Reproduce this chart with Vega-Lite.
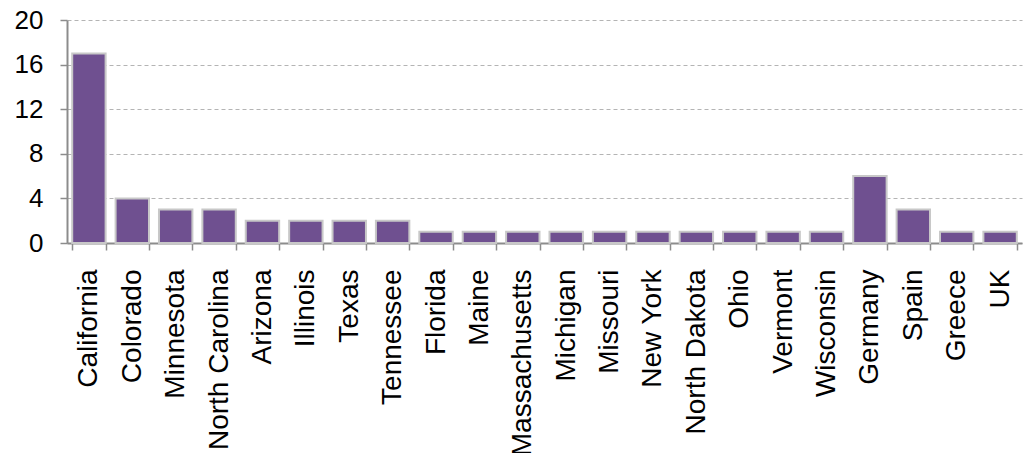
{
  "$schema": "https://vega.github.io/schema/vega-lite/v6.json",
  "autosize": {"type": "none"},
  "padding": {"left": 67, "top": 20, "right": 10, "bottom": 210},
  "width": 955,
  "height": 223,
  "background": "white",
  "config": {"view": {"stroke": null}, "font": "Liberation Sans"},
  "data": {"values": [
    {"place": "California", "count": 17},
    {"place": "Colorado", "count": 4},
    {"place": "Minnesota", "count": 3},
    {"place": "North Carolina", "count": 3},
    {"place": "Arizona", "count": 2},
    {"place": "Illinois", "count": 2},
    {"place": "Texas", "count": 2},
    {"place": "Tennessee", "count": 2},
    {"place": "Florida", "count": 1},
    {"place": "Maine", "count": 1},
    {"place": "Massachusetts", "count": 1},
    {"place": "Michigan", "count": 1},
    {"place": "Missouri", "count": 1},
    {"place": "New York", "count": 1},
    {"place": "North Dakota", "count": 1},
    {"place": "Ohio", "count": 1},
    {"place": "Vermont", "count": 1},
    {"place": "Wisconsin", "count": 1},
    {"place": "Germany", "count": 6},
    {"place": "Spain", "count": 3},
    {"place": "Greece", "count": 1},
    {"place": "UK", "count": 1}
  ]},
  "mark": {"type": "bar", "color": "#6f5090", "stroke": "#c8c8c8", "strokeWidth": 2},
  "encoding": {
    "x": {
      "field": "place", "type": "nominal", "sort": null,
      "scale": {"paddingInner": 0.23, "paddingOuter": 0.12},
      "axis": {
        "title": null, "labelAngle": -90, "labelFontSize": 28, "labelColor": "#000000",
        "labelPadding": 19, "domainColor": "#8c8c8c", "domainWidth": 2,
        "tickColor": "#8c8c8c", "tickWidth": 1.5, "tickSize": 7, "tickBand": "extent",
        "labelAlign": "right", "labelBaseline": "middle", "labelOverlap": false, "labelLimit": 0
      }
    },
    "y": {
      "field": "count", "type": "quantitative",
      "scale": {"domain": [0, 20], "nice": false},
      "axis": {
        "title": null, "values": [0, 4, 8, 12, 16, 20], "labelFontSize": 26, "labelColor": "#000000",
        "labelPadding": 17, "domainColor": "#8c8c8c", "domainWidth": 2,
        "tickColor": "#8c8c8c", "tickWidth": 1.5, "tickSize": 7,
        "grid": true, "gridColor": "#b4b4b4", "gridDash": [4, 3], "gridWidth": 1
      }
    }
  }
}
